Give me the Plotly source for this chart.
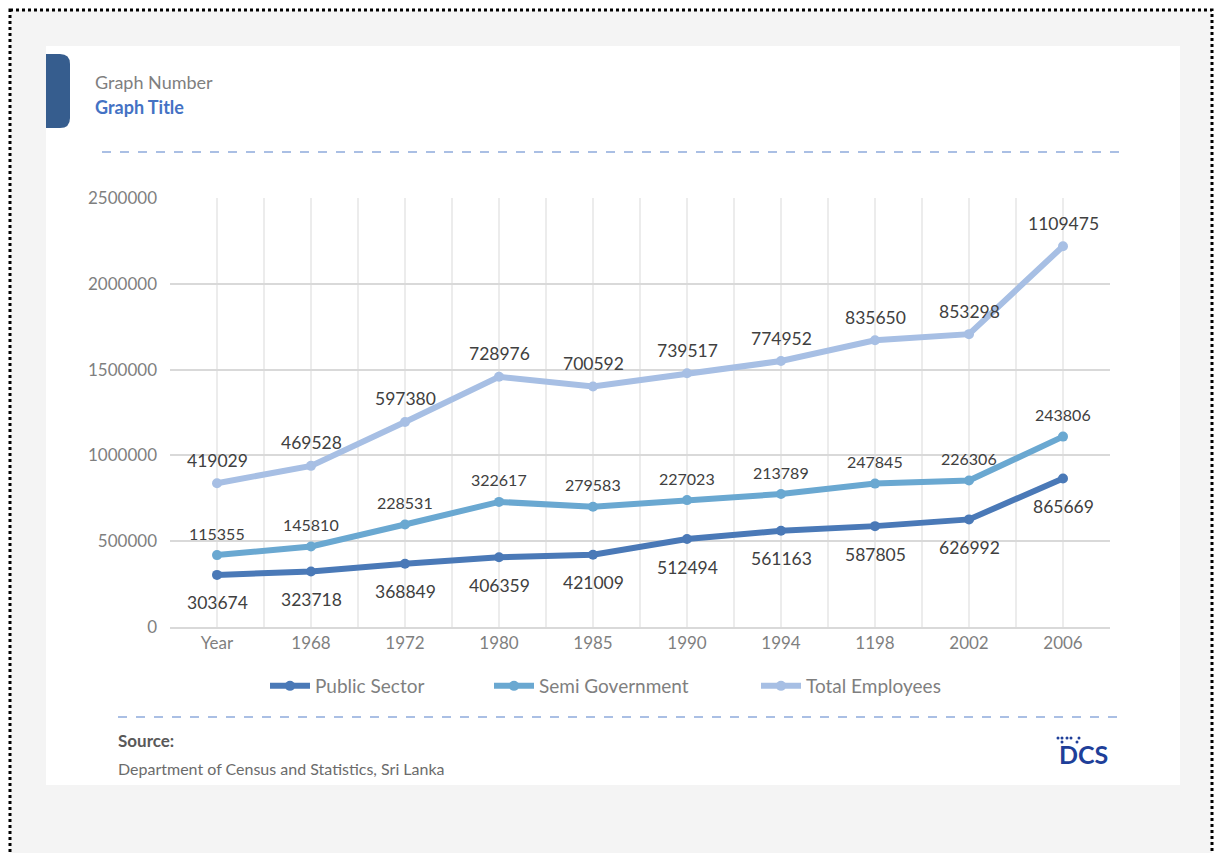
import numpy as np
import plotly.graph_objects as go

categories = ["Year", "1968", "1972", "1980", "1985", "1990", "1994", "1198", "2002", "2006"]
public_sector = [303674, 323718, 368849, 406359, 421009, 512494, 561163, 587805, 626992, 865669]
semi_government = [115355, 145810, 228531, 322617, 279583, 227023, 213789, 247845, 226306, 243806]
total_employees = [419029, 469528, 597380, 728976, 700592, 739517, 774952, 835650, 853298, 1109475]
y_ticks = [0, 500000, 1000000, 1500000, 2000000, 2500000]

series_names = ["Public Sector", "Semi Government", "Total Employees"]
series_values = [public_sector, semi_government, total_employees]
colors = ["#4a79b7", "#6aa8d1", "#a7bfe4"]

W, H = 1219, 853
L, R, T, B = 170, 1110, 198, 627

def px(x):
    return (x - L) / (R - L)

def py(y):
    return (B - y) / (B - T)

xs = list(range(len(categories)))
legend_ids = ["legend", "legend2", "legend3"]
legend_x = [272, 496, 763]

fig = go.Figure()
for name, vals, col, lid in zip(series_names, series_values, colors, legend_ids):
    fig.add_trace(go.Scatter(
        x=xs, y=vals, name=name, stackgroup="one", fill="none",
        mode="lines+markers",
        line=dict(color=col, width=6),
        marker=dict(color=col, size=10),
        hoverinfo="skip", legend=lid,
    ))

# data labels (stacked positions computed from the arrays)
cum = np.cumsum(np.array(series_values, dtype=float), axis=0)
annotations = []
label_cfg = [(-28, 17.5), (22, 16), (23, 17.5)]
for si, vals in enumerate(series_values):
    shift, fsize = label_cfg[si]
    for i, v in enumerate(vals):
        annotations.append(dict(
            x=xs[i], y=float(cum[si][i]), xref="x", yref="y",
            text=str(v), showarrow=False, yshift=shift,
            font=dict(family="Lato", size=fsize, color="#404040"),
        ))

def txt(x, y, text, size, color, anchor="left", bold=False):
    return dict(
        x=px(x), y=py(y), xref="paper", yref="paper",
        text=("<b>%s</b>" % text) if bold else text,
        showarrow=False, xanchor=anchor, yanchor="middle", xshift=-2 if anchor == "left" else 0,
        font=dict(family="Lato", size=size, color=color),
    )

annotations += [
    txt(95, 82, "Graph Number", 18, "#7f7f7f"),
    txt(95, 107, "Graph Title", 18, "#4472c4", bold=True),
    txt(118, 740, "Source:", 17, "#595959", bold=True),
    txt(118, 768, "Department of Census and Statistics, Sri Lanka", 16, "#6b6b6b"),
    txt(1083, 754, "DCS", 25, "#1f3f99", anchor="center", bold=True),
]

def rect(x0, y0, x1, y1, fill, line=None):
    return dict(type="rect", xref="paper", yref="paper",
                x0=px(x0), x1=px(x1), y0=py(y0), y1=py(y1),
                fillcolor=fill, line=line or dict(width=0), layer="below")

def hline(x0, x1, y, color):
    return dict(type="line", xref="paper", yref="paper",
                x0=px(x0), x1=px(x1), y0=py(y), y1=py(y),
                line=dict(color=color, width=1.5, dash="dash"), layer="below")

def P(x, y):
    return "%f,%f" % (px(x), py(y))

tab_path = ("M " + P(46, 54) + " L " + P(60, 54) + " Q " + P(70, 54) + " " + P(70, 64)
            + " L " + P(70, 118) + " Q " + P(70, 128) + " " + P(60, 128)
            + " L " + P(46, 128) + " Z")

shapes = [
    rect(10, 10, 1212, 900, "#f4f4f4", dict(color="black", width=3, dash="dot")),
    rect(46, 46, 1180, 785, "#ffffff"),
    dict(type="path", xref="paper", yref="paper", path=tab_path,
         fillcolor="#365d8e", line=dict(width=0), layer="below"),
    hline(102, 1125, 152, "#8eaadc"),
    hline(118, 1125, 717, "#8eaadc"),
]
# DCS logo dots
for (dx, dy) in [(1058, 738), (1062, 738), (1067, 738), (1071, 738), (1079, 738), (1062, 742), (1077, 742)]:
    shapes.append(dict(type="circle", xref="paper", yref="paper",
                       x0=px(dx - 1.5), x1=px(dx + 1.5), y0=py(dy - 1.5), y1=py(dy + 1.5),
                       fillcolor="#1f3f99", line=dict(width=0), layer="above"))

legend_common = dict(orientation="h", xanchor="left", y=py(686), yanchor="middle",
                     font=dict(family="Lato", size=19, color="#7f7f7f"),
                     bgcolor="rgba(0,0,0,0)", itemwidth=40)

fig.update_layout(
    width=W, height=H,
    margin=dict(l=L, r=W - R, t=T, b=H - B, pad=0),
    paper_bgcolor="#ffffff",
    plot_bgcolor="rgba(0,0,0,0)",
    font=dict(family="Lato", color="#7f7f7f"),
    showlegend=True,
    legend=dict(x=px(legend_x[0] - 7), **legend_common),
    legend2=dict(x=px(legend_x[1] - 7), **legend_common),
    legend3=dict(x=px(legend_x[2] - 7), **legend_common),
    xaxis=dict(
        range=[-0.5, len(categories) - 0.5],
        tickmode="array", tickvals=xs, ticktext=categories,
        showgrid=True, gridcolor="#ececec", gridwidth=1.5,
        minor=dict(dtick=1, tick0=0.5, showgrid=True, gridcolor="#ececec", gridwidth=1.5),
        showline=True, linecolor="#d9d9d9", linewidth=2,
        ticks="", tickfont=dict(family="Lato", size=17, color="#7f7f7f"),
        zeroline=False, fixedrange=True,
    ),
    yaxis=dict(
        range=[0, 2500000], tickmode="array", tickvals=y_ticks,
        ticktext=[str(v) for v in y_ticks],
        showgrid=True, gridcolor="#d9d9d9", gridwidth=1.5,
        showline=False, zeroline=False, ticks="",
        ticklabelstandoff=12,
        tickfont=dict(family="Lato", size=17, color="#7f7f7f"),
        fixedrange=True,
    ),
    annotations=annotations,
    shapes=shapes,
)

fig.write_html("out.html", config={"displayModeBar": False},
               post_script="document.body.style.margin='0';document.body.style.overflow='hidden';")
